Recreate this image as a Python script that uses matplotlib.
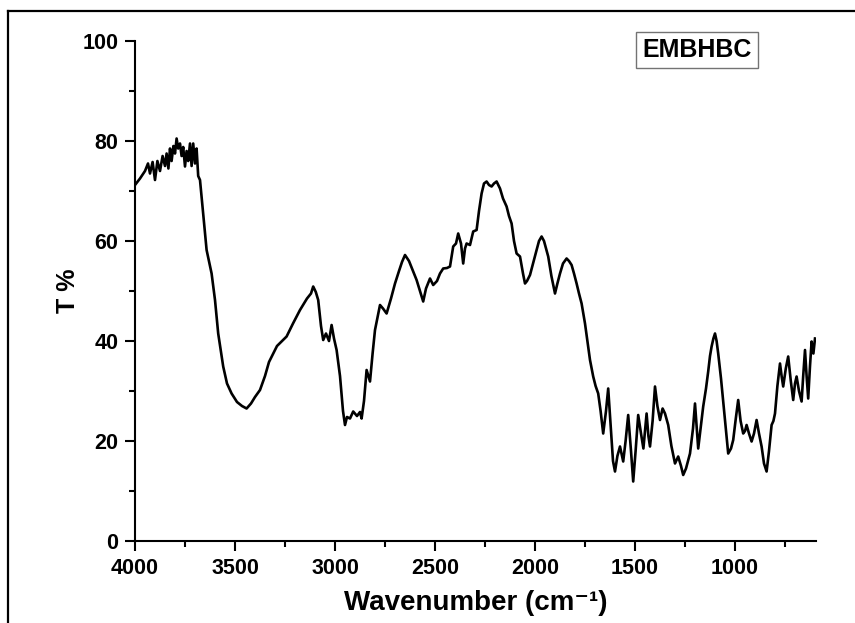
import matplotlib
matplotlib.use("Agg")
import matplotlib.pyplot as plt
from matplotlib.lines import Line2D
from matplotlib.ticker import MultipleLocator

# ---------------------------------------------------------------------------
# Data (wavenumber in cm-1, transmittance in %)
# ---------------------------------------------------------------------------
wavenumber = [
    4000, 3975, 3950, 3935, 3925, 3912, 3900, 3888, 3875, 3862, 3850, 3842,
    3833, 3825, 3817, 3808, 3800, 3792, 3784, 3775, 3767, 3759, 3750, 3742,
    3734, 3725, 3717, 3709, 3700, 3692, 3684, 3675, 3659, 3642, 3617, 3600,
    3584, 3559, 3540, 3517, 3490, 3465, 3442, 3420, 3400, 3375, 3350, 3330,
    3309, 3290, 3270, 3242, 3210, 3175, 3140, 3120, 3109, 3096, 3084, 3070,
    3059, 3045, 3030, 3017, 3005, 2992, 2975, 2960, 2950, 2940, 2925, 2909,
    2890, 2875, 2867, 2855, 2842, 2833, 2825, 2812, 2800, 2775, 2760, 2742,
    2720, 2700, 2680, 2665, 2650, 2630, 2610, 2592, 2575, 2559, 2545, 2525,
    2509, 2490, 2475, 2459, 2440, 2425, 2409, 2395, 2384, 2370, 2359, 2350,
    2342, 2325, 2309, 2292, 2280, 2267, 2255, 2242, 2230, 2217, 2205, 2192,
    2175, 2160, 2142, 2130, 2117, 2105, 2092, 2075, 2060, 2050, 2040, 2025,
    2010, 1992, 1980, 1967, 1955, 1945, 1934, 1918, 1900, 1888, 1875, 1860,
    1842, 1830, 1817, 1805, 1792, 1780, 1767, 1750, 1738, 1725, 1709, 1697,
    1684, 1672, 1659, 1645, 1634, 1620, 1610, 1600, 1588, 1575, 1559, 1547,
    1534, 1520, 1509, 1497, 1484, 1470, 1458, 1450, 1442, 1433, 1425, 1412,
    1400, 1388, 1375, 1362, 1350, 1334, 1318, 1300, 1284, 1270, 1259, 1245,
    1225, 1210, 1200, 1192, 1184, 1172, 1159, 1145, 1134, 1125, 1117, 1108,
    1100, 1092, 1084, 1070, 1059, 1045, 1034, 1020, 1009, 996, 984, 972,
    959, 950, 942, 930, 917, 905, 892, 880, 867, 855, 842, 830,
    817, 808, 800, 788, 775, 767, 759, 746, 734, 721, 709, 700,
    692, 680, 667, 659, 650, 642, 634, 625, 617, 608, 600,
]
transmittance = [
    71.2, 72.5, 74.0, 75.5, 73.5, 75.8, 72.2, 76.0, 74.0, 77.0, 75.0, 77.5,
    74.5, 78.5, 76.0, 79.0, 77.5, 80.5, 78.5, 79.5, 77.0, 78.8, 74.9, 78.0,
    76.0, 79.5, 75.0, 79.5, 75.5, 78.5, 73.0, 72.2, 65.5, 58.2, 53.5, 48.2,
    41.5, 34.9, 31.5, 29.5, 27.8, 27.0, 26.5, 27.5, 28.8, 30.2, 33.0, 35.8,
    37.5, 39.0, 39.8, 40.9, 43.5, 46.2, 48.5, 49.5, 50.9, 49.8, 48.2, 43.0,
    40.2, 41.5, 40.0, 43.2, 40.5, 38.2, 33.0, 26.0, 23.2, 24.8, 24.5, 25.9,
    25.0, 25.8, 24.5, 28.0, 34.2, 33.0, 31.9, 37.5, 42.2, 47.2, 46.5, 45.5,
    48.5, 51.5, 54.0, 55.8, 57.2, 56.0, 54.0, 52.2, 50.0, 47.9, 50.5, 52.5,
    51.2, 52.0, 53.5, 54.5, 54.6, 54.9, 58.9, 59.5, 61.5, 59.5, 55.5, 58.5,
    59.5, 59.2, 61.9, 62.2, 66.0, 69.5, 71.5, 71.9, 71.2, 70.9, 71.5, 71.9,
    70.5, 68.5, 66.9, 65.0, 63.5, 60.0, 57.5, 56.9, 53.5, 51.5, 52.0, 53.2,
    55.5, 58.2, 60.0, 60.9, 60.0, 58.5, 56.9, 53.0, 49.5, 51.5, 53.5, 55.5,
    56.5, 56.0, 55.2, 53.5, 51.5, 49.5, 47.5, 43.5, 40.0, 36.2, 32.9, 31.0,
    29.5, 26.0, 21.5, 26.0, 30.5, 22.0, 16.0, 13.9, 17.0, 18.9, 15.9, 20.0,
    25.2, 18.0, 11.9, 18.0, 25.2, 21.5, 18.5, 22.0, 25.5, 21.0, 18.9, 24.0,
    30.9, 27.0, 24.2, 26.5, 25.5, 23.2, 19.0, 15.5, 16.9, 15.0, 13.2, 14.5,
    17.5, 22.5, 27.5, 23.0, 18.5, 22.5, 26.9, 30.5, 33.9, 37.0, 38.9, 40.5,
    41.5, 40.0, 37.5, 32.5, 27.9, 22.0, 17.5, 18.5, 20.2, 24.5, 28.2, 24.0,
    21.5, 22.0, 23.2, 21.5, 19.9, 21.5, 24.2, 21.5, 18.9, 15.5, 13.9, 18.0,
    23.2, 24.0, 25.5, 31.0, 35.5, 33.0, 30.9, 34.5, 36.9, 32.0, 28.2, 31.5,
    32.9, 30.0, 27.9, 33.0, 38.2, 33.0, 28.5, 35.0, 39.9, 37.5, 40.5,
]

x_ticks = [4000, 3500, 3000, 2500, 2000, 1500, 1000]
y_ticks = [0, 20, 40, 60, 80, 100]
sample_name = "EMBHBC"

# ---------------------------------------------------------------------------
# Figure
# ---------------------------------------------------------------------------
plt.rcParams["font.family"] = ["Liberation Sans", "DejaVu Sans"]
plt.rcParams["font.weight"] = "bold"

fig = plt.figure(figsize=(8.55, 6.23), dpi=100)
ax = fig.add_axes([135 / 855, 1 - 541 / 623, (816 - 135) / 855, 500 / 623])

ax.plot(wavenumber, transmittance, color="black", linewidth=1.9)

ax.set_xlim(4000, 595)
ax.set_ylim(0, 100)
ax.set_xticks(x_ticks)
ax.set_yticks(y_ticks)
ax.xaxis.set_minor_locator(MultipleLocator(250))
ax.yaxis.set_minor_locator(MultipleLocator(10))

for side in ("top", "right"):
    ax.spines[side].set_visible(False)
for side in ("left", "bottom"):
    ax.spines[side].set_linewidth(1.5)

ax.tick_params(which="major", direction="out", length=7, width=1.5,
               labelsize=15.5, pad=5)
ax.tick_params(which="minor", direction="out", length=4, width=1.5)
for lbl in ax.get_xticklabels() + ax.get_yticklabels():
    lbl.set_fontweight("bold")

ax.set_xlabel("Wavenumber (cm\u207b\u00b9)", fontsize=20,
              fontweight="bold", labelpad=8)
ax.set_ylabel("T %", fontsize=18, fontweight="bold", labelpad=2)

ax.text(0.825, 0.982, sample_name, transform=ax.transAxes, fontsize=18,
        fontweight="bold", ha="center", va="center",
        bbox=dict(boxstyle="square,pad=0.25", facecolor="white",
                  edgecolor="0.45", linewidth=1.0))

# outer frame of the original (only left and top edges fall inside the image)
fx = 7.5 / 855
fy = 1 - 10.5 / 623
fig.add_artist(Line2D([fx, fx], [0, fy], transform=fig.transFigure,
                      color="black", linewidth=1.6))
fig.add_artist(Line2D([fx, 1], [fy, fy], transform=fig.transFigure,
                      color="black", linewidth=1.6))

fig.savefig("out.png", dpi=100)
